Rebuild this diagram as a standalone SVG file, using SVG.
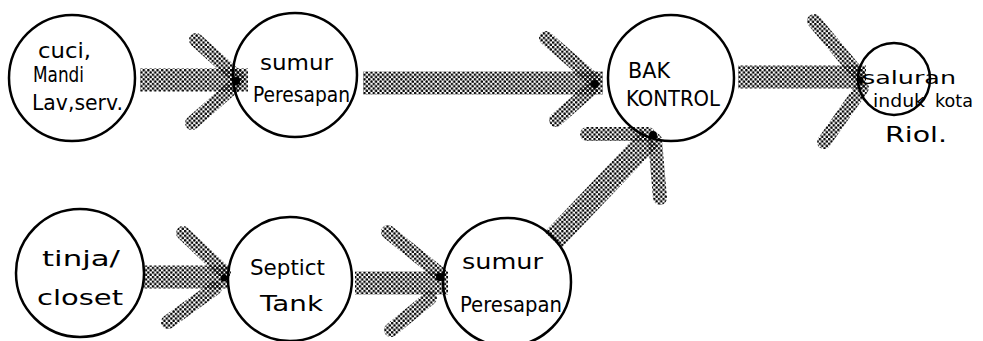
<svg xmlns="http://www.w3.org/2000/svg" width="983" height="341" viewBox="0 0 983 341">
<defs>
<pattern id="dots" patternUnits="userSpaceOnUse" width="4.6" height="4.6">
<circle cx="1.15" cy="1.15" r="1.3" fill="#000"/>
<circle cx="3.45" cy="3.45" r="1.3" fill="#000"/>
</pattern>
</defs>
<style>
.node circle{fill:none;stroke:#000;stroke-width:2.5}
text{font-family:"DejaVu Sans","Liberation Sans",sans-serif;fill:#000;font-size:22px}
.small{font-size:18px}
.shaft{stroke:url(#dots);stroke-width:23;fill:none}
.barb{stroke:url(#dots);stroke-width:14;fill:none;stroke-linecap:round}
.tip{fill:#000}
</style>
<rect width="983" height="341" fill="#fff"/>
<g id="connectors">
<g id="a1">
<line class="shaft" x1="140" y1="80" x2="248" y2="80"/>
<line class="barb" x1="196" y1="40" x2="238" y2="78"/>
<line class="barb" x1="192" y1="123" x2="234" y2="86"/>
<circle class="tip" cx="236" cy="81" r="4"/>
</g>
<g id="a2">
<line class="shaft" x1="363" y1="83" x2="603" y2="83"/>
<line class="barb" x1="546" y1="38" x2="594" y2="80"/>
<line class="barb" x1="556" y1="120" x2="591" y2="89"/>
<circle class="tip" cx="595" cy="84" r="4"/>
</g>
<g id="a3">
<line class="shaft" x1="738" y1="77" x2="866" y2="77"/>
<line class="barb" x1="814" y1="21" x2="858" y2="74"/>
<line class="barb" x1="824" y1="142" x2="862" y2="88"/>
<circle class="tip" cx="860" cy="80" r="3.5"/>
</g>
<g id="a4">
<line class="shaft" x1="143" y1="277" x2="228" y2="277"/>
<line class="barb" x1="183" y1="233" x2="224" y2="272"/>
<line class="barb" x1="168" y1="322" x2="215" y2="288"/>
<circle class="tip" cx="224" cy="278" r="3.5"/>
</g>
<g id="a5">
<line class="shaft" x1="355" y1="283" x2="448" y2="283"/>
<line class="barb" x1="388" y1="232" x2="440" y2="274"/>
<line class="barb" x1="391" y1="330" x2="430" y2="298"/>
<circle class="tip" cx="440" cy="277" r="4"/>
</g>
<g id="a6">
<line class="shaft" x1="553" y1="240" x2="650" y2="138"/>
<line class="barb" x1="587" y1="134" x2="648" y2="134"/>
<line class="barb" x1="655" y1="140" x2="660" y2="198"/>
<circle class="tip" cx="653" cy="135" r="4"/>
</g>
</g>
<g id="n1" class="node">
<circle cx="72" cy="78" r="63"/>
<text x="38" y="58" textLength="53" lengthAdjust="spacingAndGlyphs">cuci,</text>
<text x="33" y="82" textLength="51" lengthAdjust="spacingAndGlyphs">Mandi</text>
<text x="32" y="110" textLength="91" lengthAdjust="spacingAndGlyphs">Lav,serv.</text>
</g>
<g id="n2" class="node">
<circle cx="295" cy="75" r="62"/>
<text x="260" y="70" textLength="73" lengthAdjust="spacingAndGlyphs">sumur</text>
<text x="253" y="102" textLength="97" lengthAdjust="spacingAndGlyphs">Peresapan</text>
</g>
<g id="n3" class="node">
<circle cx="671" cy="78" r="63"/>
<text x="628" y="78" textLength="42" lengthAdjust="spacingAndGlyphs">BAK</text>
<text x="626" y="106" textLength="94" lengthAdjust="spacingAndGlyphs">KONTROL</text>
</g>
<g id="n4" class="node">
<circle cx="894" cy="79" r="36"/>
<text class="small" x="862" y="84" textLength="94" lengthAdjust="spacingAndGlyphs">saluran</text>
<text class="small" x="873" y="107" textLength="52" lengthAdjust="spacingAndGlyphs">induk</text>
<text class="small" x="935" y="107" textLength="38" lengthAdjust="spacingAndGlyphs">kota</text>
<text x="885" y="142" textLength="62" lengthAdjust="spacingAndGlyphs">Riol.</text>
</g>
<g id="n5" class="node">
<circle cx="80" cy="273" r="64"/>
<text x="42" y="266" textLength="78" lengthAdjust="spacingAndGlyphs">tinja/</text>
<text x="37" y="305" textLength="86" lengthAdjust="spacingAndGlyphs">closet</text>
</g>
<g id="n6" class="node">
<circle cx="290" cy="279" r="62"/>
<text x="250" y="275" textLength="75" lengthAdjust="spacingAndGlyphs">Septict</text>
<text x="260" y="311" textLength="63" lengthAdjust="spacingAndGlyphs">Tank</text>
</g>
<g id="n7" class="node">
<circle cx="507" cy="282" r="64"/>
<text x="462" y="269" textLength="81" lengthAdjust="spacingAndGlyphs">sumur</text>
<text x="460" y="312" textLength="102" lengthAdjust="spacingAndGlyphs">Peresapan</text>
</g>
</svg>
